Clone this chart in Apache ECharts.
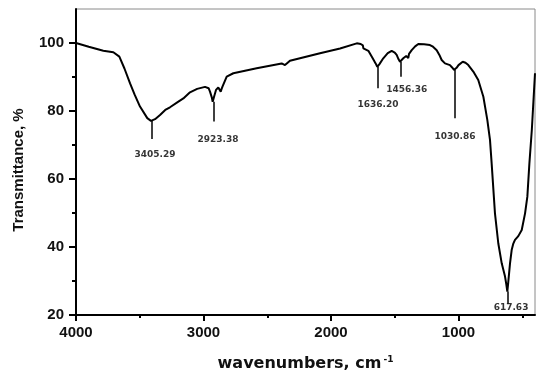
<!DOCTYPE html>
<html>
<head>
<meta charset="utf-8">
<script src="https://cdn.jsdelivr.net/npm/echarts@6/dist/echarts.min.js"></script>
<style>
html,body{margin:0;padding:0;background:#fff;}
#chart{width:550px;height:384px;}
</style>
</head>
<body>
<div id="chart"></div>
<script>
// Spectrum (wavenumber, cm-1) and transmittance (%)
var wavenumbers = [4000,3900,3786,3707,3660,3620,3576,3540,3498,3441,3412,3380,3341,3300,3263,3200,3158,3106,3050,2988,2960,2949,2935,2928,2915,2902,2884,2870,2865,2858,2852,2818,2766,2583,2387,2361,2340,2322,2086,1929,1798,1767,1750,1746,1707,1673,1650,1637,1620,1590,1555,1524,1500,1485,1470,1459,1450,1433,1410,1398,1394,1388,1367,1340,1315,1270,1224,1200,1171,1150,1132,1106,1067,1050,1035,1015,1000,967,945,923,884,845,805,774,753,740,714,688,661,635,625,617,610,596,583,570,557,531,504,478,460,444,425,400];
var transmittance = [100.0,98.9,97.7,97.3,96.0,92.5,88.1,84.8,81.3,77.9,77.1,77.6,78.8,80.3,81.1,82.7,83.7,85.5,86.5,87.1,86.7,85.7,84.0,82.7,84.5,86.2,86.9,86.6,85.7,86.5,87.1,90.1,91.1,92.6,94.0,93.5,94.2,94.8,97.0,98.4,99.9,99.7,99.3,98.4,97.7,95.5,94.0,93.0,93.8,95.5,97.0,97.7,97.2,96.5,95.2,94.5,95.0,95.5,96.2,96.5,95.6,96.8,97.9,99.0,99.7,99.6,99.4,98.9,97.9,96.5,95.0,94.0,93.5,92.8,92.1,92.7,93.5,94.5,94.2,93.5,91.6,89.1,84.2,77.4,71.5,64.6,49.9,41.1,35.2,31.3,29.0,26.9,29.5,35.2,39.1,41.0,42.1,43.2,45.0,49.9,54.8,64.6,74.4,91.1];

// Peak annotations
var peakLabels = ['3405.29','2923.38','1636.20','1456.36','1030.86','617.63'];
var peakWn = [3405.29,2923.38,1636.20,1456.36,1030.86,617.63];
var peakTop = [77.1,82.7,93.0,94.5,92.1,26.9];
var peakBottom = [71.8,76.9,86.7,90.1,77.9,23.4];
var labelWn = [3380,2886,1631,1406,1027,588];
var labelT = [67.1,71.5,81.8,86.4,72.4,22.1];

// Axis ticks
var xMajorTicks = [1000,2000,3000,4000];
var xMinorTicks = [500,1500,2500,3500];
var yMajorTicks = [20,40,60,80,100];
var yMinorTicks = [30,50,70,90];

var spectrum = wavenumbers.map(function(w,i){return [w, transmittance[i]];});
var markSegs = peakWn.map(function(w,i){return [{coord:[w,peakTop[i]]},{coord:[w,peakBottom[i]]}];});
var labelPts = labelWn.map(function(w,i){return {value:[w,labelT[i]], name:peakLabels[i]};});

var font = 'Liberation Sans, Arial, sans-serif';
var wide = 'DejaVu Sans, sans-serif';
var chart = echarts.init(document.getElementById('chart'), null, {renderer:'canvas'});
chart.setOption({
  animation:false,
  backgroundColor:'#fff',
  grid:{left:76,right:15,top:9,bottom:69,show:true,borderColor:'#8a8a8a',borderWidth:1,backgroundColor:'transparent'},
  xAxis:[{
    type:'value',min:400,max:4000,inverse:true,
    name:'wavenumbers, cm{sup|-1}',nameLocation:'middle',nameGap:40,
    nameTextStyle:{fontFamily:wide,fontWeight:'bold',fontSize:16,color:'#111',
      rich:{sup:{fontFamily:wide,fontWeight:'bold',fontSize:9,color:'#111',verticalAlign:'top',padding:[0,0,9,2]}}},
    axisLine:{show:true,lineStyle:{color:'#000',width:2}},
    axisTick:{show:true,customValues:xMajorTicks,length:6,lineStyle:{color:'#000',width:2}},
    axisLabel:{customValues:xMajorTicks,margin:10,fontFamily:font,fontWeight:'bold',fontSize:15,color:'#111',
      formatter:function(v){return String(v);}},
    splitLine:{show:false}
  },{
    type:'value',min:400,max:4000,inverse:true,position:'bottom',
    axisLine:{show:false},
    axisTick:{show:true,customValues:xMinorTicks,length:3,lineStyle:{color:'#000',width:2}},
    axisLabel:{show:false},splitLine:{show:false}
  }],
  yAxis:[{
    type:'value',min:20,max:110,
    name:'Transmittance, %',nameLocation:'middle',nameGap:50,nameRotate:90,
    nameTextStyle:{fontFamily:font,fontWeight:'bold',fontSize:15,color:'#111',padding:[0,16,0,0]},
    axisLine:{show:true,lineStyle:{color:'#000',width:2}},
    axisTick:{show:true,customValues:yMajorTicks,length:7,lineStyle:{color:'#000',width:2}},
    axisLabel:{customValues:yMajorTicks,margin:12,fontFamily:font,fontWeight:'bold',fontSize:15,color:'#111'},
    splitLine:{show:false}
  },{
    type:'value',min:20,max:110,position:'left',
    axisLine:{show:false},
    axisTick:{show:true,customValues:yMinorTicks,length:4,lineStyle:{color:'#000',width:2}},
    axisLabel:{show:false},splitLine:{show:false}
  }],
  series:[{
    type:'line',xAxisIndex:0,yAxisIndex:0,data:spectrum,showSymbol:false,symbol:'none',
    lineStyle:{color:'#000',width:2},
    markLine:{silent:true,symbol:'none',label:{show:false},lineStyle:{color:'#000',width:1.5,type:'solid'},data:markSegs}
  },{
    type:'scatter',xAxisIndex:0,yAxisIndex:0,data:labelPts,symbolSize:1,itemStyle:{color:'rgba(0,0,0,0)'},
    label:{show:true,position:'inside',formatter:function(p){return p.name;},
      fontFamily:wide,fontWeight:'bold',fontSize:9,color:'#000'}
  }]
});
</script>
</body>
</html>
